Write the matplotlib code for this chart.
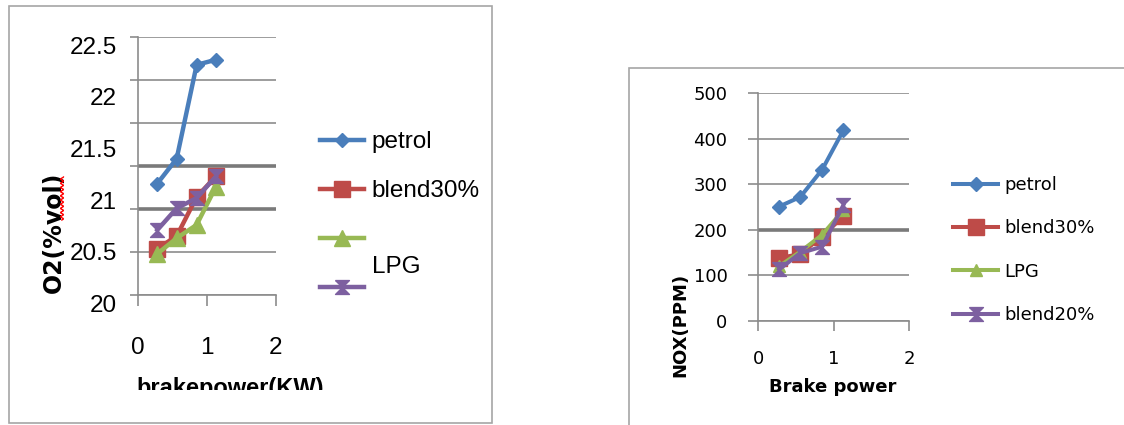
import numpy as np
import matplotlib
matplotlib.use('Agg')
import matplotlib.pyplot as plt
from matplotlib.patches import Rectangle
from matplotlib.lines import Line2D
from matplotlib.transforms import Bbox, ScaledTranslation

# brake power (kW) at the four load steps
bp = [0.28, 0.56, 0.85, 1.13]

# exhaust O2 (% vol)
o2_petrol = [21.08, 21.32, 22.23, 22.28]
o2_blend30 = [20.45, 20.57, 20.95, 21.15]
o2_lpg = [20.40, 20.55, 20.68, 21.05]
o2_blend20 = [20.63, 20.84, 20.94, 21.15]

# NOx (ppm)
nox_petrol = [251, 272, 332, 418]
nox_blend30 = [138, 147, 185, 230]
nox_lpg = [120, 152, 189, 243]
nox_blend20 = [113, 149, 163, 254]

fuels = ['petrol', 'blend30%', 'LPG', 'blend20%']
colors = ['#4A7EBB', '#BE4B48', '#98B954', '#7D60A0']
hourglass = [(-1, 1), (1, 1), (-1, -1), (1, -1), (-1, 1)]
markers = ['D', 's', '^', hourglass]

NARROW = ['Liberation Sans', 'DejaVu Sans']
GRID = '#8c8c8c'
W, H = 1124, 425

fig = plt.figure(figsize=(W / 100, H / 100), dpi=100)


def px(x, y):
    return x / W, 1 - y / H


# panel frames
for x0, y0, x1, y1 in [(9, 6, 492, 423), (629, 68, 1130, 430)]:
    fig.add_artist(Rectangle(px(x0, y1), (x1 - x0) / W, (y1 - y0) / H,
                             transform=fig.transFigure, fill=False,
                             edgecolor='#a6a6a6', lw=1.2))


def style_axes(ax):
    for s in ['top', 'right']:
        ax.spines[s].set_visible(False)
    for s in ['left', 'bottom']:
        ax.spines[s].set_color(GRID)
        ax.spines[s].set_linewidth(1.2)
    ax.set_xlim(0, 2)
    ax.set_xticks([0, 1, 2])


# ---- O2 panel ----
ax1 = fig.add_axes([138 / W, 130 / H, 138 / W, 258 / H])
style_axes(ax1)
ax1.set_ylim(20, 22.5)
ax1.yaxis.remove_overlapping_locs = False
ax1.set_yticks(np.arange(20, 22.51, 0.5))
ax1.set_yticklabels(['20', '20.5', '21', '21.5', '22', '22.5'])
ax1.set_yticks(np.linspace(20, 22.5, 7), minor=True)
ax1.tick_params(axis='y', which='major', length=0, pad=15, labelsize=17.5)
ax1.tick_params(axis='y', which='minor', length=6, width=1.2, color=GRID)
ax1.tick_params(axis='x', length=8, width=1.2, color=GRID, pad=22, labelsize=17.5)
ax1.grid(axis='y', which='minor', color=GRID, lw=1.2)
for i, t in enumerate(ax1.yaxis.get_minor_ticks()):
    if i in (2, 3):
        t.gridline.set_linewidth(2.6)
        t.gridline.set_color('#7a7a7a')
for lab in ax1.get_yticklabels() + ax1.get_xticklabels():
    lab.set_family(NARROW)
for lab in ax1.get_yticklabels():
    lab.set_transform(lab.get_transform() + ScaledTranslation(0, -6 / 72, fig.dpi_scale_trans))

o2_series = [o2_petrol, o2_blend30, o2_lpg, o2_blend20]
o2_ms = [7.5, 11, 11, 10]
h1 = []
for vals, c, m, ms in zip(o2_series, colors, markers, o2_ms):
    ln, = ax1.plot(bp, vals, color=c, lw=3.2, marker=m, ms=ms,
                   markeredgecolor=c)
    h1.append(ln)

leg1 = ax1.legend(h1, ['petrol', 'blend30%', '', ''], loc='upper left',
                  bbox_to_anchor=px(320, 131), bbox_transform=fig.transFigure,
                  frameon=False, borderpad=0, borderaxespad=0,
                  handlelength=1.8, handletextpad=0.3, labelspacing=1.12,
                  prop={'family': NARROW, 'size': 17.5})
fig.text(*px(372, 267), 'LPG', va='center', ha='left', fontsize=17.5, family=NARROW)

ax1.set_ylabel('O2(%vol)', fontsize=17, fontweight='bold')
ax1.yaxis.set_label_coords(-0.52, 0.244)
ax1.set_xlabel('brakepower(KW)', fontsize=17, fontweight='bold', family=NARROW)
ax1.xaxis.set_label_coords(0.667, -0.318)
ax1.xaxis.label.set_clip_on(True)
ax1.xaxis.label.set_clip_box(Bbox.from_extents(0, H - 390, W, H))

# spell-check squiggle under the unit
ys = np.linspace(177, 220, 120)
xs = 62 + 1.4 * np.sin(ys * 1.5)
fig.add_artist(Line2D(xs / W, 1 - ys / H, transform=fig.transFigure,
                      color='red', lw=1))

# ---- NOx panel ----
ax2 = fig.add_axes([758 / W, 104 / H, 151 / W, 228 / H])
style_axes(ax2)
ax2.set_ylim(0, 500)
ax2.set_yticks(range(0, 501, 100))
ax2.tick_params(axis='y', length=7, width=1.2, color=GRID, pad=15, labelsize=13)
ax2.tick_params(axis='x', length=7, width=1.2, color=GRID, pad=14, labelsize=13)
ax2.grid(axis='y', color=GRID, lw=1.2)
ax2.get_ygridlines()[2].set_linewidth(2.6)
ax2.get_ygridlines()[2].set_color('#7a7a7a')

nox_series = [nox_petrol, nox_blend30, nox_lpg, nox_blend20]
nox_ms = [7, 11, 9, 10]
h2 = []
for vals, c, m, ms in zip(nox_series, colors, markers, nox_ms):
    ln, = ax2.plot(bp, vals, color=c, lw=2.9, marker=m, ms=ms,
                   markeredgecolor=c)
    h2.append(ln)

ax2.legend(h2, fuels, loc='upper left',
           bbox_to_anchor=px(953, 176), bbox_transform=fig.transFigure,
           frameon=False, borderpad=0, borderaxespad=0,
           handlelength=2.5, handletextpad=0.35, labelspacing=1.4,
           prop={'size': 13})

ax2.set_ylabel('NOX(PPM)', fontsize=13, fontweight='bold')
ax2.yaxis.set_label_coords(-0.457, -0.018)
ax2.set_xlabel('Brake power', fontsize=13, fontweight='bold')
ax2.xaxis.set_label_coords(0.497, -0.25)

fig.savefig('out.png', dpi=100)
